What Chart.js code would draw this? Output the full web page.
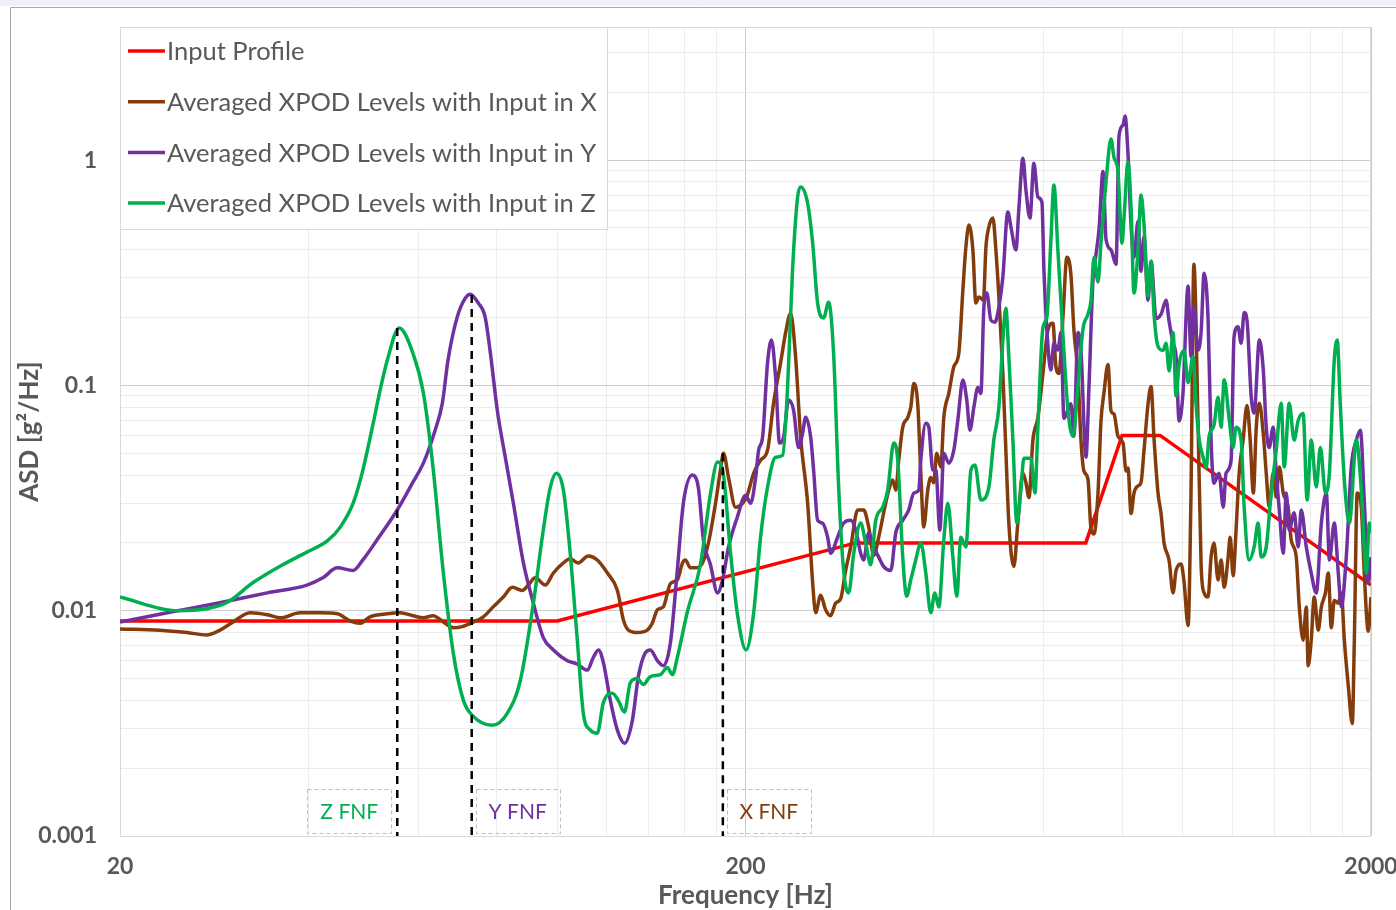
<!DOCTYPE html>
<html>
<head>
<meta charset="utf-8">
<script src="https://cdn.jsdelivr.net/npm/chart.js@4.4.1/dist/chart.umd.min.js"></script>
<style>
html, body { margin: 0; padding: 0; background: #fff; }
#wrap { position: relative; width: 1396px; height: 910px; overflow: hidden; }
canvas { display: block; }
</style>
</head>
<body>
<div id="wrap"><canvas id="asdChart" width="1396" height="910"></canvas></div>
<script>
// Series names (legend order)
const seriesNames = [
    "Input Profile",
    "Averaged XPOD Levels with Input in X",
    "Averaged XPOD Levels with Input in Y",
    "Averaged XPOD Levels with Input in Z",
];

// Input profile [Hz], [g²/Hz]
const inputFreq = [20, 100, 300, 700, 800, 920, 2000];
const inputAsd = [0.009, 0.009, 0.02, 0.02, 0.06, 0.06, 0.013];

// Input in X
const xFreq = [20, 23.2, 25.6, 27.5, 28.9, 30.3, 32.3, 34.4, 36.1, 38.8,
    41.8, 44.5, 46.7, 48.4, 50.2, 53.5, 56.1, 58.8, 61.1, 63.3,
    66.2, 68.2, 70.5, 73.4, 76.2, 79.0, 82.0, 84.8, 87.9, 89.9,
    92.2, 95.7, 98.6, 102.3, 104.9, 108.0, 112.1, 115.9, 120.3, 124.8,
    127.6, 130.0, 134.3, 139.3, 141.9, 144.6, 147.8, 151.7, 155.6, 158.6,
    160.3, 163.3, 166.3, 170.7, 174.5, 179.1, 182.4, 184.4, 187.9, 192.8,
    197.9, 200.9, 206.1, 211.4, 216.9, 221.7, 227.6, 231.8, 236.1, 240.5,
    245.0, 251.4, 256.1, 258.9, 263.7, 268.6, 273.6, 278.7, 283.9, 289.2,
    294.6, 302.3, 309.0, 314.8, 320.6, 326.6, 332.6, 338.9, 343.9, 347.8,
    351.6, 356.8, 363.4, 367.5, 371.6, 377.1, 381.3, 385.5, 391.2, 395.6,
    399.9, 404.3, 410.5, 415.0, 422.8, 430.6, 438.6, 445.2, 450.1, 455.2,
    461.9, 467.0, 472.3, 480.2, 484.6, 489.9, 497.2, 502.7, 508.3, 515.8,
    521.5, 527.3, 537.1, 545.0, 555.3, 561.5, 567.8, 576.1, 586.8, 597.8,
    608.8, 620.2, 627.1, 634.1, 643.5, 652.9, 662.7, 670.0, 680.0, 687.6,
    695.2, 705.5, 713.5, 721.4, 732.1, 740.2, 748.3, 759.5, 768.0, 776.5,
    788.0, 802.8, 811.7, 817.6, 826.8, 835.9, 848.3, 857.8, 867.3, 880.1,
    890.0, 899.8, 913.1, 923.4, 933.6, 951.1, 965.2, 975.9, 994.1, 1005,
    1020, 1031, 1042, 1058, 1070, 1082, 1098, 1110, 1122, 1139,
    1152, 1165, 1182, 1191, 1204, 1217, 1231, 1249, 1267, 1282,
    1297, 1311, 1326, 1345, 1360, 1375, 1395, 1411, 1427, 1448,
    1474, 1491, 1519, 1536, 1558, 1576, 1587, 1605, 1623, 1647,
    1666, 1691, 1709, 1728, 1747, 1773, 1793, 1813, 1840, 1867,
    1881, 1901, 1930, 1951, 1980, 2000];
const xAsd = [0.0083, 0.0082, 0.0080, 0.0078, 0.0082, 0.0089, 0.0098, 0.0096, 0.0093, 0.0098,
    0.0098, 0.0097, 0.0090, 0.0088, 0.0094, 0.0097, 0.0098, 0.0095, 0.0093, 0.0095,
    0.0088, 0.0084, 0.0085, 0.0089, 0.0094, 0.0104, 0.0115, 0.0127, 0.0123, 0.013,
    0.014, 0.013, 0.0147, 0.0163, 0.017, 0.0163, 0.0175, 0.0168, 0.0147, 0.0123,
    0.0091, 0.0082, 0.0080, 0.0082, 0.0088, 0.0101, 0.0104, 0.0132, 0.0137, 0.0163,
    0.0168, 0.0155, 0.0155, 0.0163, 0.020, 0.030, 0.0421, 0.050, 0.039, 0.0288,
    0.030, 0.032, 0.0408, 0.0466, 0.0516, 0.083, 0.126, 0.171, 0.209, 0.134,
    0.059, 0.030, 0.0133, 0.0098, 0.0117, 0.0101, 0.0095, 0.0108, 0.0113, 0.0151,
    0.0192, 0.028, 0.028, 0.0235, 0.0176, 0.0212, 0.0272, 0.0343, 0.038, 0.0343,
    0.0466, 0.0653, 0.072, 0.080, 0.102, 0.082, 0.041, 0.0235, 0.0343, 0.039,
    0.037, 0.050, 0.0435, 0.072, 0.0925, 0.121, 0.139, 0.265, 0.41, 0.515,
    0.40, 0.232, 0.247, 0.239, 0.41, 0.505, 0.553, 0.40, 0.247, 0.113,
    0.0516, 0.0245, 0.0157, 0.0245, 0.0408, 0.037, 0.0318, 0.0572, 0.072, 0.113,
    0.176, 0.189, 0.121, 0.113, 0.201, 0.371, 0.309, 0.176, 0.113, 0.0572,
    0.0417, 0.0385, 0.0231, 0.0219, 0.0333, 0.0695, 0.0925, 0.124, 0.077, 0.0747,
    0.0595, 0.0555, 0.0417, 0.043, 0.027, 0.0333, 0.0358, 0.0372, 0.0516, 0.0826,
    0.099, 0.058, 0.0333, 0.027, 0.020, 0.0167, 0.012, 0.0151, 0.0161, 0.0134,
    0.0086, 0.0333, 0.345, 0.0695, 0.0161, 0.012, 0.0115, 0.0173, 0.020, 0.0137,
    0.0168, 0.0127, 0.0173, 0.0212, 0.0143, 0.0228, 0.0408, 0.0572, 0.0815, 0.0572,
    0.0333, 0.0653, 0.0834, 0.0614, 0.0408, 0.0288, 0.0408, 0.032, 0.0435, 0.0333,
    0.0288, 0.0206, 0.0173, 0.0104, 0.0074, 0.0104, 0.0057, 0.0074, 0.0115, 0.0082,
    0.0104, 0.012, 0.0147, 0.0084, 0.0111, 0.0108, 0.012, 0.0074, 0.0046, 0.00315,
    0.0074, 0.0333, 0.0288, 0.0147, 0.0081, 0.0115];

// Input in Y
const yFreq = [20, 23.8, 28.6, 34.4, 39.8, 42.2, 44.5, 47.2, 48.9, 51.5,
    55.5, 58.8, 61.1, 63.8, 65.5, 66.9, 69.2, 71.3, 72.6, 74.8,
    76.7, 78.2, 80.2, 82.6, 85.1, 88.3, 91.6, 95.0, 98.6, 103.8,
    107.6, 111.7, 114.2, 116.4, 118.5, 121.6, 124.8, 128.1, 131.9, 134.8,
    138.3, 140.9, 144.6, 147.8, 151.7, 155.6, 159.1, 164.5, 168.2, 171.3,
    175.8, 180.4, 183.8, 187.9, 194.2, 200, 203.8, 207.6, 209.9, 213.0,
    216.9, 220.1, 223.4, 226.7, 230.1, 234.4, 238.7, 243.2, 246.8, 249.6,
    254.2, 257.0, 260.8, 265.6, 270.6, 273.6, 280.7, 287.0, 294.6, 300.1,
    305.6, 309.0, 314.8, 320.6, 326.6, 332.6, 341.4, 347.8, 356.8, 364.8,
    371.6, 378.5, 381.3, 388.4, 392.7, 398.5, 403.0, 409.0, 415.0, 422.8,
    430.6, 437.0, 445.2, 451.6, 456.9, 463.6, 470.4, 475.7, 481.0, 486.2,
    493.5, 500.9, 508.3, 515.8, 525.3, 531.3, 541.2, 547.3, 555.3, 561.5,
    569.9, 578.2, 586.8, 595.6, 600.0, 608.8, 615.6, 622.4, 631.6, 638.8,
    645.8, 655.4, 662.7, 670.0, 680.0, 687.6, 700.4, 708.2, 718.8, 726.8,
    734.9, 745.7, 754.0, 768.0, 782.3, 791.0, 802.8, 808.8, 817.6, 826.8,
    835.9, 848.3, 857.8, 867.3, 880.1, 890, 906.6, 923.4, 940.6, 951.1,
    965.2, 975.9, 986.8, 1001, 1020, 1031, 1042, 1058, 1070, 1082,
    1098, 1110, 1122, 1143, 1161, 1173, 1195, 1208, 1226, 1240,
    1254, 1267, 1287, 1301, 1326, 1345, 1360, 1375, 1395, 1411,
    1427, 1448, 1464, 1480, 1507, 1530, 1547, 1576, 1605, 1635,
    1666, 1697, 1716, 1747, 1773, 1793, 1826, 1860, 1895, 1923,
    1951, 1980, 2000];
const yAsd = [0.0089, 0.0098, 0.0108, 0.012, 0.013, 0.014, 0.0155, 0.0151, 0.0168, 0.0206,
    0.028, 0.0372, 0.0452, 0.0633, 0.083, 0.1295, 0.201, 0.244, 0.254, 0.232,
    0.201, 0.139, 0.0777, 0.048, 0.030, 0.0163, 0.0108, 0.0076, 0.0067, 0.0060,
    0.0058, 0.00545, 0.0062, 0.0067, 0.0059, 0.0040, 0.00295, 0.00258, 0.00327, 0.0051,
    0.0065, 0.0067, 0.0060, 0.0057, 0.0072, 0.0151, 0.030, 0.040, 0.0350, 0.0206,
    0.0160, 0.012, 0.0137, 0.0192, 0.0262, 0.0325, 0.030, 0.039, 0.0516, 0.059,
    0.126, 0.159, 0.109, 0.0555, 0.059, 0.0861, 0.0777, 0.053, 0.0614, 0.0723,
    0.059, 0.0421, 0.0252, 0.0245, 0.0212, 0.018, 0.0212, 0.0245, 0.0252, 0.0228,
    0.018, 0.0168, 0.0222, 0.0192, 0.0173, 0.0157, 0.0151, 0.0222, 0.0252, 0.028,
    0.0333, 0.0343, 0.0466, 0.068, 0.0653, 0.0421, 0.0421, 0.0228, 0.050, 0.0452,
    0.0516, 0.0701, 0.1056, 0.0861, 0.0633, 0.080, 0.098, 0.092, 0.223, 0.257,
    0.195, 0.191, 0.223, 0.303, 0.588, 0.505, 0.40, 0.618, 1.02, 0.736,
    0.553, 0.97, 0.686, 0.65, 0.325, 0.151, 0.117, 0.154, 0.1435, 0.172,
    0.0715, 0.0777, 0.083, 0.0595, 0.172, 0.1435, 0.048, 0.099, 0.296, 0.382,
    0.494, 0.89, 0.446, 0.40, 0.345, 1.28, 1.43, 1.57, 1.06, 0.514,
    0.371, 0.536, 0.321, 0.46, 0.239, 0.356, 0.198, 0.207, 0.239, 0.193,
    0.154, 0.134, 0.0695, 0.0925, 0.276, 0.134, 0.223, 0.1435, 0.172, 0.315,
    0.195, 0.0572, 0.0368, 0.0408, 0.0288, 0.0408, 0.0466, 0.164, 0.182, 0.154,
    0.211, 0.195, 0.0887, 0.0755, 0.159, 0.118, 0.0653, 0.053, 0.0653, 0.0408,
    0.028, 0.018, 0.0333, 0.0228, 0.0272, 0.0192, 0.028, 0.0192, 0.0147, 0.012,
    0.0245, 0.0333, 0.0168, 0.0245, 0.0147, 0.0104, 0.0173, 0.0435, 0.0572, 0.0633,
    0.031, 0.0133, 0.0173];

// Input in Z
const zFreq = [20, 24.7, 27.5, 29.7, 32.6, 36.4, 39.8, 42.9, 45.0, 47.2,
    48.9, 50.8, 52.1, 53.5, 55.9, 58.8, 61.1, 63.3, 65.7, 68.2,
    70.8, 73.1, 78.7, 83.2, 87.3, 91.6, 95.0, 97.5, 99.7, 102.3,
    104.9, 107.6, 110.1, 113.0, 115.9, 118.5, 122.5, 125.2, 128.1, 130.9,
    134.3, 137.3, 140.9, 146.2, 150.0, 152.8, 155.6, 161.5, 169.4, 175.8,
    180.4, 184.4, 189.3, 194.2, 200.4, 206.1, 211.4, 216.9, 223.4, 229.3,
    233.5, 237.8, 242.3, 245.0, 251.4, 256.1, 260.8, 266.6, 271.6, 276.6,
    281.8, 287.0, 292.4, 297.9, 305.6, 311.3, 317.1, 323.0, 331.4, 337.6,
    345.2, 350.3, 356.8, 362.0, 367.5, 374.3, 381.3, 388.4, 395.6, 401.5,
    407.5, 415.0, 421.2, 429.1, 435.4, 441.9, 450.1, 458.5, 465.4, 475.7,
    489.9, 498.9, 508.3, 515.8, 521.5, 527.3, 535.2, 543.0, 551.2, 557.3,
    571.9, 580.5, 586.8, 597.8, 606.5, 615.6, 622.4, 631.6, 643.5, 655.4,
    667.6, 680.0, 692.7, 705.5, 713.5, 721.4, 732.1, 740.2, 754.0, 768.0,
    776.5, 788.0, 799.8, 805.7, 817.6, 826.8, 835.9, 848.3, 857.8, 867.3,
    880.1, 890.0, 899.8, 913.1, 930.2, 940.6, 951.1, 965.2, 975.9, 986.8,
    1005, 1020, 1039, 1050, 1062, 1078, 1090, 1102, 1122, 1139,
    1152, 1165, 1187, 1204, 1217, 1240, 1254, 1277, 1301, 1320,
    1335, 1360, 1385, 1411, 1437, 1453, 1480, 1507, 1530, 1558,
    1581, 1605, 1635, 1660, 1691, 1716, 1747, 1766, 1787, 1813,
    1847, 1895, 1930, 1966, 1988, 2000];
const zAsd = [0.0115, 0.0100, 0.0102, 0.0109, 0.0133, 0.0160, 0.0182, 0.0204, 0.0235, 0.0301,
    0.0421, 0.068, 0.0953, 0.1295, 0.180, 0.139, 0.0925, 0.0434, 0.0151, 0.0065,
    0.0040, 0.00344, 0.0031, 0.0035, 0.0049, 0.0108, 0.0228, 0.0354, 0.0408, 0.0343,
    0.018, 0.0076, 0.0035, 0.00295, 0.00286, 0.0039, 0.0043, 0.0040, 0.00355, 0.0048,
    0.0050, 0.0047, 0.0051, 0.0052, 0.0056, 0.0052, 0.0062, 0.0099, 0.0160, 0.033,
    0.0457, 0.040, 0.018, 0.0096, 0.0067, 0.0098, 0.0212, 0.0354, 0.048, 0.049,
    0.098, 0.325, 0.685, 0.76, 0.644, 0.428, 0.232, 0.199, 0.234, 0.139,
    0.0354, 0.0151, 0.012, 0.018, 0.0245, 0.020, 0.016, 0.0252, 0.0288, 0.0343,
    0.0555, 0.0466, 0.0173, 0.0116, 0.0137, 0.0168, 0.020, 0.0147, 0.0098, 0.012,
    0.0104, 0.0206, 0.030, 0.0173, 0.0116, 0.0212, 0.0192, 0.042, 0.0443, 0.031,
    0.0354, 0.0572, 0.080, 0.159, 0.220, 0.134, 0.0572, 0.0245, 0.0343, 0.0475,
    0.0475, 0.0333, 0.0653, 0.181, 0.201, 0.442, 0.775, 0.40, 0.167, 0.0777,
    0.0595, 0.099, 0.178, 0.207, 0.239, 0.371, 0.288, 0.428, 0.80, 1.24,
    1.03, 0.89, 0.428, 0.553, 0.98, 0.62, 0.257, 0.40, 0.70, 0.514,
    0.249, 0.356, 0.207, 0.149, 0.143, 0.154, 0.116, 0.172, 0.0896, 0.124,
    0.143, 0.103, 0.134, 0.083, 0.058, 0.048, 0.043, 0.0595, 0.0665, 0.0887,
    0.0653, 0.106, 0.0701, 0.053, 0.0653, 0.0572, 0.0288, 0.0168, 0.0192, 0.0245,
    0.0173, 0.0192, 0.0333, 0.0516, 0.0834, 0.0435, 0.0834, 0.0572, 0.0701, 0.075,
    0.031, 0.0572, 0.0354, 0.053, 0.0333, 0.0408, 0.1295, 0.159, 0.080, 0.038,
    0.0245, 0.0572, 0.0343, 0.0147, 0.0245, 0.0222];

// First natural frequencies (dashed markers)
const fnfNames = ["Z FNF", "Y FNF", "X FNF"];
const fnfFreq = [55.5, 73.0, 184.0];
const fnfPeak = [0.18, 0.252, 0.05];

// Axis ticks
const xTickValues = [20, 40, 60, 80, 100, 120, 140, 160, 180, 200,
    400, 600, 800, 1000, 1200, 1400, 1600, 1800, 2000];
const xTickLabels = [20, 200, 2000];
const yTickValues = [0.001, 0.002, 0.003, 0.004, 0.005, 0.006, 0.007, 0.008, 0.009,
    0.01, 0.02, 0.03, 0.04, 0.05, 0.06, 0.07, 0.08, 0.09,
    0.1, 0.2, 0.3, 0.4, 0.5, 0.6, 0.7, 0.8, 0.9, 1, 2, 3];
const yTickLabels = [0.001, 0.01, 0.1, 1];

const seriesColors = ["#ff0000", "#843c0c", "#7030a0", "#00b050"];
const fnfColors = ["#00b050", "#7030a0", "#843c0c"];
const textGrey = "#595959";
const fontFam = "Lato, 'Open Sans', sans-serif";

const toPoints = (f, a) => f.map((x, i) => ({ x: x, y: a[i] }));
const seriesData = [
    toPoints(inputFreq, inputAsd),
    toPoints(xFreq, xAsd),
    toPoints(yFreq, yAsd),
    toPoints(zFreq, zAsd),
];

const datasets = seriesData.map((d, i) => ({
    label: seriesNames[i],
    data: d,
    borderColor: seriesColors[i],
    borderWidth: 3.5,
    cubicInterpolationMode: i === 0 ? "default" : "monotone",
    tension: i === 0 ? 0 : 0.4,
    order: 4 - i,
}));

fnfNames.forEach((n, i) => {
    datasets.push({
        label: n,
        data: [{ x: fnfFreq[i], y: fnfPeak[i] }, { x: fnfFreq[i], y: 0.001 }],
        borderColor: "#000000",
        borderWidth: 2.5,
        borderDash: [8, 6],
        tension: 0,
        order: 0,
    });
});

// Outer frame and plot border
const framePlugin = {
    id: "frame",
    beforeDraw(chart) {
        const c = chart.ctx;
        c.save();
        c.fillStyle = "#ffffff";
        c.fillRect(0, 0, chart.width, chart.height);
        c.fillStyle = "#eef2f7";
        c.fillRect(0, 0, chart.width, 6);
        c.strokeStyle = "#a6a6a6";
        c.lineWidth = 1;
        c.beginPath();
        c.moveTo(10.5, 7.5);
        c.lineTo(chart.width, 7.5);
        c.moveTo(10.5, 7.5);
        c.lineTo(10.5, chart.height);
        c.stroke();
        c.restore();
    },
    beforeDatasetsDraw(chart) {
        const a = chart.chartArea;
        const c = chart.ctx;
        c.save();
        c.strokeStyle = "#d9d9d9";
        c.lineWidth = 1;
        c.strokeRect(a.left + 0.5, a.top + 0.5, a.right - a.left - 1, a.bottom - a.top);
        c.restore();
    },
};

// Legend box in the top-left corner of the plot
const legendBoxPlugin = {
    id: "legendBox",
    afterDatasetsDraw(chart) {
        const c = chart.ctx;
        const a = chart.chartArea;
        c.save();
        c.fillStyle = "#ffffff";
        c.strokeStyle = "#d9d9d9";
        c.lineWidth = 1;
        c.fillRect(a.left, a.top, 487, 202);
        c.strokeRect(a.left + 0.5, a.top + 0.5, 487, 202);
        c.font = "25.5px " + fontFam;
        c.textBaseline = "middle";
        c.fillStyle = textGrey;
        for (let i = 0; i < 4; i++) {
            const y = a.top + 24 + i * 50.7;
            c.strokeStyle = seriesColors[i];
            c.lineWidth = 3.5;
            c.beginPath();
            c.moveTo(a.left + 8, y);
            c.lineTo(a.left + 45, y);
            c.stroke();
            c.fillText(seriesNames[i], a.left + 47, y + 1);
        }
        c.restore();
    },
};

// FNF labels in dashed boxes next to the marker lines
const fnfLabelPlugin = {
    id: "fnfLabels",
    afterDatasetsDraw(chart) {
        const c = chart.ctx;
        const xs = chart.scales.x;
        const bottom = chart.chartArea.bottom;
        c.save();
        c.font = "21px " + fontFam;
        c.textAlign = "center";
        c.textBaseline = "middle";
        fnfNames.forEach((n, i) => {
            const px = xs.getPixelForValue(fnfFreq[i]);
            const w = 84, h = 44;
            const left = i === 0 ? px - 6 - w : px + 4;
            const top = bottom - 3 - h;
            c.setLineDash([4, 3]);
            c.strokeStyle = "#bfbfbf";
            c.lineWidth = 1;
            c.strokeRect(Math.round(left) + 0.5, Math.round(top) + 0.5, w, h);
            c.setLineDash([]);
            c.fillStyle = fnfColors[i];
            c.fillText(n, left + w / 2, top + h / 2 + 1);
        });
        c.restore();
    },
};

const ctx = document.getElementById("asdChart").getContext("2d");
new Chart(ctx, {
    type: "line",
    data: { datasets: datasets },
    options: {
        responsive: false,
        animation: false,
        layout: { padding: { top: 27, right: 25, left: 0, bottom: 0 } },
        elements: { point: { radius: 0 } },
        plugins: { legend: { display: false }, tooltip: { enabled: false } },
        scales: {
            x: {
                type: "logarithmic",
                min: 20,
                max: 2000,
                afterBuildTicks: (s) => { s.ticks = xTickValues.map((v) => ({ value: v })); },
                afterFit: (s) => { s.height = 74; s.paddingLeft = 0; s.paddingRight = 0; },
                ticks: {
                    autoSkip: false,
                    maxRotation: 0,
                    padding: 17,
                    color: textGrey,
                    font: { family: fontFam, size: 23, weight: "bold" },
                    callback: (v) => (xTickLabels.includes(v) ? String(v) : ""),
                },
                grid: {
                    drawTicks: false,
                    color: (c) => (xTickLabels.includes(c.tick && c.tick.value) ? "#cccccc" : "#ececec"),
                },
                border: { display: false },
                title: {
                    display: true,
                    text: "Frequency [Hz]",
                    color: textGrey,
                    font: { family: fontFam, size: 26, weight: "bold", lineHeight: 1 },
                    padding: { top: 0, bottom: 1 },
                },
            },
            y: {
                type: "logarithmic",
                min: 0.001,
                max: 3.9,
                afterBuildTicks: (s) => { s.ticks = yTickValues.map((v) => ({ value: v })); },
                afterFit: (s) => { s.width = 120; s.paddingTop = 0; s.paddingBottom = 0; },
                ticks: {
                    autoSkip: false,
                    padding: 23,
                    color: textGrey,
                    font: { family: fontFam, size: 23, weight: "bold" },
                    callback: (v) => (yTickLabels.includes(v) ? String(v) : ""),
                },
                grid: {
                    drawTicks: false,
                    color: (c) => (yTickLabels.includes(c.tick && c.tick.value) ? "#cccccc" : "#ececec"),
                },
                border: { display: false },
                title: {
                    display: true,
                    text: "ASD [g²/Hz]",
                    color: textGrey,
                    font: { family: fontFam, size: 26, weight: "bold", lineHeight: 1 },
                    padding: { top: 17, bottom: 0 },
                },
            },
        },
    },
    plugins: [framePlugin, legendBoxPlugin, fnfLabelPlugin],
});
</script>
</body>
</html>
